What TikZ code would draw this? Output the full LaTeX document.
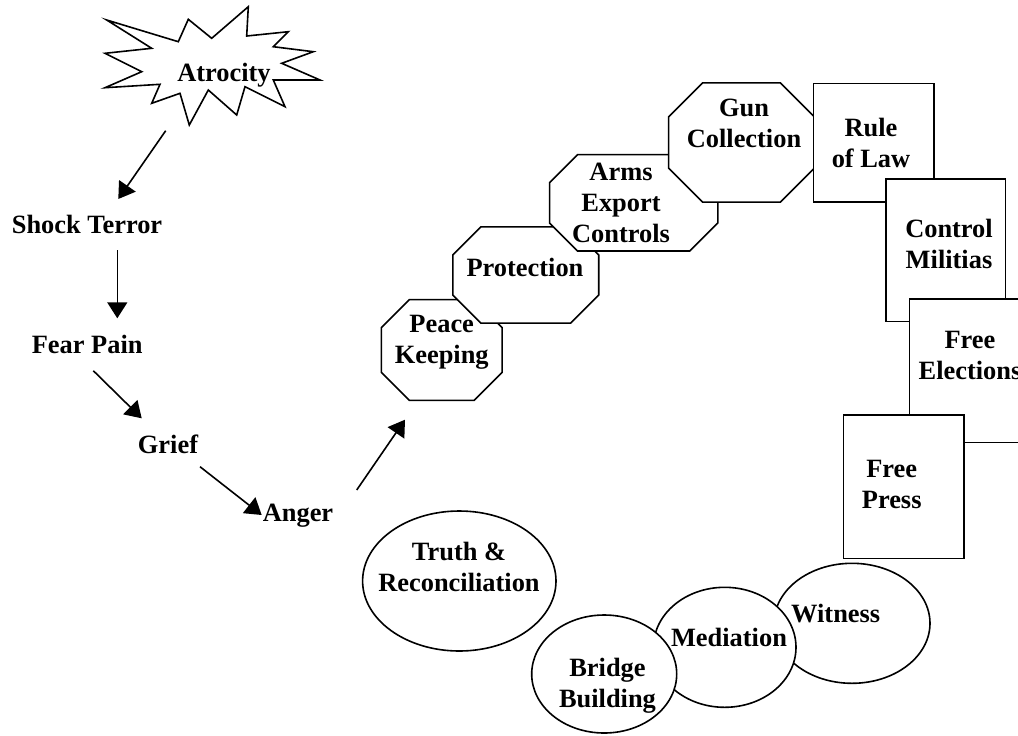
\documentclass[tikz,border=0pt]{standalone}
\usepackage{fontspec}
\setmainfont{Liberation Serif}
\usetikzlibrary{arrows.meta,shapes.geometric}

\tikzset{
  lbl/.style={font=\fontsize{13.2pt}{15.3pt}\selectfont\bfseries, inner sep=0pt, align=center},
  outline/.style={draw=black, line width=0.8pt, fill=white, line join=miter},
  framebox/.style={rectangle, outline, inner sep=0pt},
  holder/.style={rectangle, draw=none, inner sep=0pt},
  oval/.style={ellipse, outline, inner sep=0pt},
  flow/.style={line width=0.8pt, -{Triangle[length=8pt,width=10pt]}},
}

% octagon with cut corners drawn on the frame of a holder node
\newcommand\octframe[2]{%
  \draw[outline] ([xshift=#2]#1.north west) -- ([xshift=-#2]#1.north east)
    -- ([yshift=-#2]#1.north east) -- ([yshift=#2]#1.south east)
    -- ([xshift=-#2]#1.south east) -- ([xshift=#2]#1.south west)
    -- ([yshift=#2]#1.south west) -- ([yshift=-#2]#1.north west) -- cycle;}

\begin{document}
\begin{tikzpicture}[x=0.5pt,y=-0.5pt]
\useasboundingbox (0,0) rectangle (1018,735);
\clip (0,0) rectangle (1018,735);

% burst around the first step
\draw[outline] (106.7,20) -- (178.3,41.7) -- (188.3,19.3) -- (211.7,38.3)
  -- (248.3,6.7) -- (246.7,36) -- (288.3,31.7) -- (273.3,46.7)
  -- (313.3,51.7) -- (281.7,63.3) -- (320,80) -- (273.3,80)
  -- (285,106.7) -- (245,86.7) -- (236.7,115) -- (208.3,90)
  -- (189.3,125) -- (180,93.3) -- (151.7,103.3) -- (160,84.3)
  -- (105,87.7) -- (141.7,71.7) -- (105,53.3) -- (151.7,48.3) -- cycle;

% octagons
\node[holder, minimum width=60pt, minimum height=50pt] (peacebox) at (441.7,350) {};
\octframe{peacebox}{14pt}
\node[holder, minimum width=72.5pt, minimum height=47.7pt] (protbox) at (525.8,275) {};
\octframe{protbox}{14pt}
\node[holder, minimum width=83.7pt, minimum height=47.8pt] (armsbox) at (633.7,202.8) {};
\octframe{armsbox}{14pt}
\node[holder, minimum width=72.5pt, minimum height=59.2pt] (gunbox) at (741.5,142.5) {};
\octframe{gunbox}{17pt}

% rectangles
\node[framebox, minimum width=60.3pt, minimum height=59.2pt] (rulebox) at (873.7,142.5) {};
\node[framebox, minimum width=59.8pt, minimum height=71.3pt] (ctrlbox) at (945.8,250.3) {};
\node[framebox, minimum width=60.7pt, minimum height=71.8pt] (electbox) at (970,370.8) {};
\node[framebox, minimum width=60.3pt, minimum height=71.7pt] (pressbox) at (903.7,486.7) {};

% ellipses
\node[oval, minimum width=96.7pt, minimum height=70pt] (truthbox) at (459.3,581) {};
\node[oval, minimum width=78pt, minimum height=60pt] (witbox) at (852,623.3) {};
\node[oval, minimum width=71.3pt, minimum height=60pt] (medbox) at (724.7,647.3) {};
\node[oval, minimum width=72.5pt, minimum height=59pt] (bridgebox) at (604.2,674) {};

% labels
\node[lbl, anchor=base] (atro) at (224,81.7) {Atrocity};
\node[lbl, anchor=base] (shock) at (87,233) {Shock Terror};
\node[lbl, anchor=base] (fear) at (87.2,353.3) {Fear Pain};
\node[lbl, anchor=base] (grief) at (168,453.3) {Grief};
\node[lbl, anchor=base] (anger) at (298,521) {Anger};

\node[lbl] (peace) at (441.7,342.2) {Peace\\Keeping};
\node[lbl, anchor=base] (prot) at (525,276.7) {Protection};
\node[lbl] (arms) at (621,203) {Arms\\Export\\Controls};
\node[lbl] (gun) at (744,123.5) {Gun\\Collection};
\node[lbl] (rule) at (871,142.9) {Rule\\of Law};
\node[lbl] (ctrl) at (949,243.7) {Control\\Militias};
\node[lbl] (elect) at (970,355.7) {Free\\Elections};
\node[lbl] (press) at (891.7,484.3) {Free\\Press};
\node[lbl] (truth) at (459,566.8) {Truth \&\\Reconciliation};
\node[lbl, anchor=base] (wit) at (835.7,622.3) {Witness};
\node[lbl, anchor=base] (med) at (729,646.7) {Mediation};
\node[lbl] (bridge) at (607.5,685.8) {Bridge\\Building};

% sequence of reactions
\draw[flow] ([shift={(-58.3,49)}]atro.base) -- ([shift={(31.3,-34)}]shock.base);
\draw[flow] ([shift={(30.3,17)}]shock.base) -- ([shift={(30.1,-35)}]fear.base);
\draw[flow] ([shift={(6.1,17.4)}]fear.base) -- ([shift={(-26.3,-35)}]grief.base);
\draw[flow] ([shift={(32,13.4)}]grief.base) -- ([shift={(-36.3,-6)}]anger.base);
\draw[flow] ([shift={(58.7,-31)}]anger.base) -- ([shift={(-36.7,19.3)}]peacebox.south);
\end{tikzpicture}
\end{document}
